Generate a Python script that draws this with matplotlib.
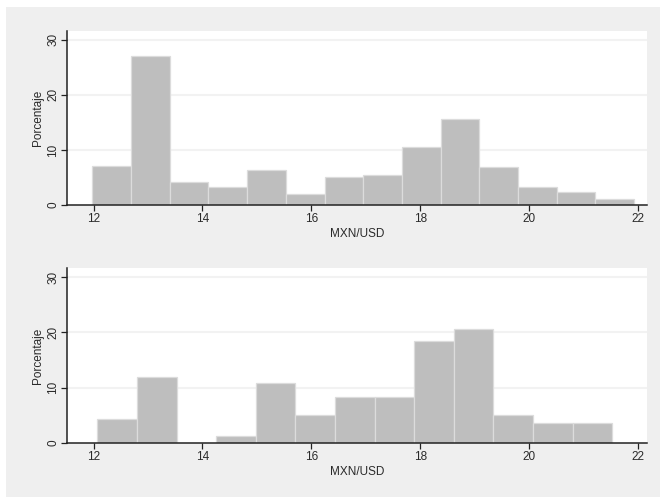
import numpy as np
import matplotlib
matplotlib.use("Agg")
import matplotlib.pyplot as plt
from matplotlib.patches import Rectangle

plt.rcParams['font.family'] = ['Liberation Sans', 'DejaVu Sans']

# histogram 1 (top): 14 bins
top_start = 11.98
top_width = 0.710
top_pct = [7.15, 26.97, 4.12, 3.21, 6.36, 2.0, 5.03, 5.45, 10.48, 15.58, 6.97, 3.21, 2.36, 1.03]

# histogram 2 (bottom): 13 bins
bot_start = 12.07
bot_width = 0.727
bot_pct = [4.3, 11.88, 0.0, 1.15, 10.9, 4.97, 8.24, 8.24, 18.36, 20.6, 4.97, 3.64, 3.64]

x_ticks = [12, 14, 16, 18, 20, 22]
y_ticks = [0, 10, 20, 30]
x_label = "MXN/USD"
y_label = "Porcentaje"

bg = '#efefef'
bar_fill = '#bebebe'
bar_edge = '#dcdcdc'

fig = plt.figure(figsize=(6.6, 4.99), dpi=100, facecolor='white')
# grey graph region
fig.patches.append(Rectangle((6 / 660, 2 / 499), 654 / 660, 490 / 499,
                             transform=fig.transFigure, facecolor=bg,
                             edgecolor='none', zorder=-10))


def draw_panel(rect, start, width, pct):
    ax = fig.add_axes(rect)
    ax.set_facecolor('white')
    lefts = start + width * np.arange(len(pct))
    ax.bar(lefts, pct, width=width, align='edge', color=bar_fill,
           edgecolor=bar_edge, linewidth=0.9, zorder=2)
    ax.set_xlim(11.508, 22.165)
    ax.set_ylim(0, 31.6)
    ax.set_xticks(x_ticks)
    ax.set_yticks(y_ticks)
    for g in y_ticks[1:]:
        ax.axhline(g, color='#f2f2f2', linewidth=1.5, zorder=1)
    for s in ['top', 'right']:
        ax.spines[s].set_visible(False)
    for s in ['left', 'bottom']:
        ax.spines[s].set_color('#222222')
        ax.spines[s].set_linewidth(1.1)
    ax.tick_params(axis='both', direction='out', length=4, width=0.9,
                   color='#222222', labelsize=8.5, labelcolor='#2a2a2a')
    ax.tick_params(axis='y', pad=1.5, labelrotation=90)
    ax.tick_params(axis='x', pad=2)
    for lab in ax.get_yticklabels():
        lab.set_va('center')
    ax.set_xlabel(x_label, fontsize=8.5, color='#2a2a2a', labelpad=2)
    ax.set_ylabel(y_label, fontsize=8.5, color='#2a2a2a', labelpad=2)
    return ax


draw_panel([66.7 / 660, 1 - 205 / 499, 580.6 / 660, 174 / 499],
           top_start, top_width, top_pct)
draw_panel([66.7 / 660, 1 - 442.7 / 499, 580.6 / 660, 174.4 / 499],
           bot_start, bot_width, bot_pct)

fig.savefig('out.png', dpi=100, facecolor='white')
